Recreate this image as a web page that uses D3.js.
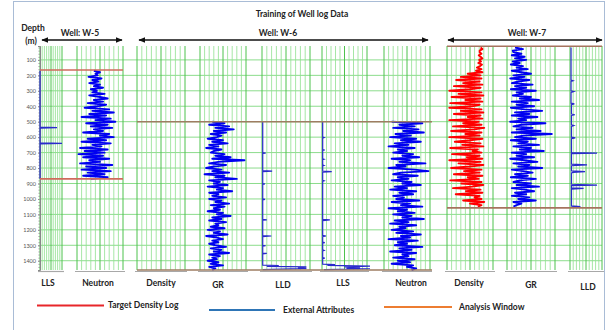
<!DOCTYPE html>
<html>
<head>
<meta charset="utf-8">
<script src="https://cdn.jsdelivr.net/npm/d3@7/dist/d3.min.js"></script>
<style>
  body { margin: 0; background: #fff; }
  svg { display: block; font-family: Lato, "Open Sans", sans-serif; }
</style>
</head>
<body>
<svg id="chart" width="607" height="330"></svg>
<script>
// ---- data ----
const depthTicks = [100, 200, 300, 400, 500, 600, 700, 800, 900, 1000, 1100, 1200, 1300, 1400];
const trackNames = ["LLS", "Neutron", "Density", "GR", "LLD", "LLS", "Neutron", "Density", "GR", "LLD"];
const wellNames = ["Well: W-5", "Well: W-6", "Well: W-7"];
const legendNames = ["Target Density Log", "External Attributes", "Analysis Window"];

// analysis windows (top, bottom depth in m)
const windowW5 = [165, 870];
const windowW6 = [500, 1460];
const windowW7 = [12, 1058];

// dense logs: first depth, step 10 m
const neutronW5Start = 170;
const neutronW5 = [38, 30, 36, 33,
  45, 28, 40, 32, 44, 30, 38, 26, 42, 34,
  40, 24, 44, 30, 20, 38, 26, 46, 22, 34,
  50, 18, 40, 12, 44, 22, 54, 16, 36, 10,
  48, 20, 42, 14, 38, 26, 52, 18, 30, 12,
  46, 22, 54, 16, 40, 28, 56, 20, 50, 24,
  58, 26, 52, 18, 44, 30, 56, 14, 48, 22,
  54, 16, 46, 24, 52, 20, 42];

const grW6Start = 500;
const grW6 = [40, 80, 30, 95, 50, 110, 45, 85, 35, 70,
  55, 25, 75, 40, 90, 30, 60, 20, 70, 45,
  35, 80, 50, 100, 40, 145, 60, 30, 85, 45,
  20, 70, 40, 95, 15, 80, 50, 120, 30, 65,
  45, 90, 25, 75, 55, 105, 30, 60, 40, 85,
  30, 70, 50, 95, 35, 80, 45, 65, 25, 75,
  55, 100, 40, 70, 30, 85, 50, 60, 35, 80,
  25, 65, 45, 90, 20, 55, 75, 40, 60, 30,
  50, 85, 35, 70, 45, 95, 30, 65, 40, 55,
  25, 60, 35, 75, 30, 50, 40];

const neutronW6Start = 500;
const neutronW6 = [50, 10, 40, 20, 48, 15, 35, 8, 45, 25,
  52, 18, 38, 12, 46, 28, 54, 20, 42, 30,
  48, 22, 36, 14, 50, 26, 40, 6, 44, 32,
  54, 20, 2, 38, 48, 16, 42, 28, 50, 24,
  36, 12, 46, 30, 52, 18, 40, 22, 48, 34,
  44, 14, 50, 26, 38, 10, 54, 30, 42, 20,
  48, 24, 36, 8, 46, 28, 52, 18, 40, 32,
  50, 22, 44, 12, 38, 26, 54, 16, 42, 30,
  46, 10, 40, 24, 52, 18, 36, 28, 48, 20,
  42, 26, 50, 22, 30, 18, 24];

const densityW7Start = 20;
const densityW7 = [2.68, 2.72, 2.66,
  2.66, 2.70, 2.64, 2.68, 2.72, 2.65, 2.69, 2.63, 2.71, 2.67,
  2.60, 2.70, 2.58, 2.72, 2.40, 2.68, 2.25, 2.70, 2.15, 2.66,
  2.30, 2.72, 2.10, 2.68, 2.45, 2.00, 2.70, 2.20, 2.74, 2.05,
  2.68, 2.35, 2.72, 2.02, 2.66, 2.50, 2.00, 2.70, 2.25, 2.74,
  2.10, 2.68, 2.40, 2.72, 2.00, 2.64, 2.30, 2.70, 2.08, 2.76,
  2.55, 2.04, 2.70, 2.35, 2.66, 2.00, 2.72, 2.45, 2.12, 2.68,
  2.28, 2.74, 2.02, 2.62, 2.50, 2.70, 2.06, 2.66, 2.38, 2.72,
  2.00, 2.68, 2.20, 2.74, 2.44, 2.04, 2.70, 2.32, 2.66, 2.10,
  2.72, 2.40, 2.64, 2.02, 2.70, 2.26, 2.74, 2.50, 2.08, 2.68,
  2.36, 2.72, 2.14, 2.66, 2.55, 2.70, 2.30, 2.76, 2.45, 2.70,
  2.62];

const grW7Start = 20;
const grW7 = [25, 50, 18,
  20, 45, 15, 55, 25, 60, 18, 40, 12, 50,
  30, 65, 15, 45, 75, 20, 55, 10, 70, 35,
  15, 80, 25, 60, 12, 90, 30, 50, 18, 75,
  40, 100, 15, 65, 30, 85, 12, 55, 110, 25,
  70, 15, 95, 35, 60, 10, 120, 45, 20, 80,
  30, 105, 15, 140, 50, 25, 90, 12, 65, 35,
  100, 20, 75, 40, 115, 15, 60, 30, 85, 10,
  55, 95, 20, 70, 35, 110, 15, 50, 80, 25,
  65, 12, 90, 40, 20, 75, 30, 100, 15, 55,
  85, 25, 60, 15, 70, 35, 90, 20, 45, 30,
  20];

// spiky resistivity logs: [depth, ohm.m]
const llsW5 = [[170, 0.2], [535, 0.2], [538, 250], [541, 0.2], [637, 0.2], [640, 2000], [643, 0.2], [870, 0.2]];
const lldW6 = [[500, 0.23], [700, 0.23], [703, 0.4], [706, 0.23], [817, 0.23], [820, 1.4], [824, 0.23],
  [900, 0.23], [903, 0.35], [906, 0.23], [1000, 0.23], [1003, 0.35], [1006, 0.23], [1132, 0.23], [1135, 0.5], [1138, 0.23],
  [1237, 0.23], [1240, 1.2], [1244, 0.23], [1300, 0.23], [1303, 0.4], [1306, 0.23], [1350, 0.23], [1353, 0.5], [1356, 0.23],
  [1428, 0.23], [1431, 5], [1436, 0.5], [1440, 1000], [1444, 200], [1449, 1000], [1453, 50], [1458, 0.23]];
const llsW6 = [[500, 0.23], [600, 0.23], [603, 0.3], [606, 0.23], [680, 0.23], [683, 0.35], [686, 0.23],
  [740, 0.23], [743, 0.3], [746, 0.23], [780, 0.23], [783, 0.3], [786, 0.23], [819, 0.23], [823, 1.46], [827, 0.23],
  [880, 0.23], [883, 0.3], [886, 0.23], [1132, 0.23], [1136, 1.0], [1140, 0.23], [1236, 0.23], [1240, 0.45], [1244, 0.23],
  [1280, 0.23], [1283, 0.35], [1286, 0.23], [1330, 0.23], [1333, 0.3], [1336, 0.23], [1380, 0.23], [1383, 0.35], [1386, 0.23],
  [1422, 0.23], [1425, 2.9], [1430, 0.6], [1435, 3700], [1440, 20], [1445, 480], [1449, 30], [1452, 3700], [1457, 0.3]];
const lldW7 = [[20, 0.27], [230, 0.27], [235, 0.5], [240, 0.27], [300, 0.27], [305, 0.6], [310, 0.27],
  [380, 0.27], [385, 0.7], [390, 0.3], [450, 0.3], [455, 0.8], [460, 0.3], [520, 0.3], [525, 0.6], [530, 0.3],
  [600, 0.3], [605, 0.9], [610, 0.3], [700, 0.3], [703, 480], [707, 0.3], [775, 0.3], [780, 27], [785, 0.3],
  [818, 0.3], [823, 15], [828, 0.5], [832, 0.3], [905, 0.3], [910, 480], [914, 0.3], [928, 0.3], [932, 10], [936, 0.3],
  [1045, 0.3], [1050, 4], [1055, 0.3]];

// ---- layout ----
const svg = d3.select("#chart");
const gridTop = 46, gridBottom = 270;
const y = d3.scaleLinear().domain([10, 1460]).range([gridTop, gridBottom]);

const resDomain = [0.2, 2000];
const tracks = [
  { x0: 40, x1: 62, log: true, domain: resDomain, lx: 48, ly: 286 },
  { x0: 77, x1: 123, domain: [60, 0], lx: 98, ly: 286 },
  { x0: 137, x1: 185, domain: [1.95, 2.95], lx: 161, ly: 286 },
  { x0: 200, x1: 246, domain: [0, 150], lx: 218, ly: 288 },
  { x0: 262, x1: 310, log: true, domain: resDomain, lx: 283, ly: 288 },
  { x0: 322, x1: 367, log: true, domain: resDomain, lx: 343, ly: 286 },
  { x0: 384, x1: 430, domain: [60, 0], lx: 411, ly: 286 },
  { x0: 447, x1: 493, domain: [1.95, 2.95], lx: 469, ly: 286 },
  { x0: 507, x1: 555, domain: [0, 150], lx: 531, ly: 288 },
  { x0: 570, x1: 602, log: true, domain: resDomain, lx: 588, ly: 290 }
];
tracks.forEach((t, i) => {
  t.name = trackNames[i];
  t.x = (t.log ? d3.scaleLog() : d3.scaleLinear()).domain(t.domain).range([t.x0, t.x1]);
});

// frame
svg.append("rect").attr("x", 13.5).attr("y", 1.5).attr("width", 591).attr("height", 340)
  .attr("fill", "none").attr("stroke", "#a9bcd6").attr("stroke-width", 1);

// title
svg.append("text").attr("x", 302).attr("y", 17).attr("text-anchor", "middle")
  .attr("font-size", 8.5).attr("font-weight", "bold").attr("fill", "#222").text("Training of Well log Data");

// horizontal grid
const gh = svg.append("g");
gh.selectAll("line").data(depthTicks).join("line")
  .attr("x1", 40).attr("x2", 602)
  .attr("y1", d => y(d)).attr("y2", d => y(d))
  .attr("stroke", "#7fd87f").attr("stroke-width", 0.9);

// vertical grid per track
tracks.forEach(t => {
  const g = svg.append("g");
  const n = 10;
  const xs = d3.range(n + 1).map(k => t.x0 + (t.x1 - t.x0) * k / n);
  g.selectAll("line").data(xs).join("line")
    .attr("x1", d => d).attr("x2", d => d)
    .attr("y1", gridTop).attr("y2", gridBottom)
    .attr("stroke", (d, k) => (k === 0 || k === n || k === 5) ? "#4cc24c" : "#8fe08f")
    .attr("stroke-width", (d, k) => (k === 0 || k === n || k === 5) ? 1 : 0.8);
  // track baseline
  svg.append("line").attr("x1", t.x0 - 2).attr("x2", t.x1 + 2)
    .attr("y1", gridBottom + 1.5).attr("y2", gridBottom + 1.5)
    .attr("stroke", "#a8a8a8").attr("stroke-width", 1.2);
  // track label
  svg.append("text").attr("x", t.lx).attr("y", t.ly).attr("text-anchor", "middle")
    .attr("font-size", 8.5).attr("font-weight", "bold").attr("fill", "#222").text(t.name);
});

// depth axis
const axis = svg.append("g").attr("transform", "translate(40,0)")
  .call(d3.axisLeft(y).tickValues(depthTicks).tickSize(2).tickFormat(d3.format("d")));
axis.select(".domain").attr("stroke", "#888");
axis.selectAll(".tick line").attr("stroke", "#888");
axis.selectAll(".tick text").attr("font-size", 5.5).attr("fill", "#555").attr("x", -4)
  .attr("font-family", "Lato, sans-serif");
svg.append("g").attr("transform", "translate(40,0)")
  .call(d3.axisLeft(y).tickValues(d3.range(20, 1460, 20)).tickSize(1.5).tickFormat(""))
  .call(g => g.select(".domain").remove())
  .selectAll(".tick line").attr("stroke", "#999");

svg.append("text").attr("x", 33).attr("y", 31).attr("text-anchor", "middle")
  .attr("font-size", 8.5).attr("font-weight", "bold").attr("fill", "#222").text("Depth");
svg.append("text").attr("x", 31).attr("y", 43.5).attr("text-anchor", "middle")
  .attr("font-size", 8.5).attr("font-weight", "bold").attr("fill", "#222").text("(m)");

// well arrows
const defs = svg.append("defs");
defs.append("marker").attr("id", "ah").attr("viewBox", "0 0 10 10").attr("refX", 9).attr("refY", 5)
  .attr("markerWidth", 5).attr("markerHeight", 5).attr("orient", "auto-start-reverse")
  .append("path").attr("d", "M0,1 L10,5 L0,9 Z").attr("fill", "#111");
const wellSpans = [[42, 122], [139, 428], [448, 602]];
wellSpans.forEach((s, i) => {
  svg.append("line").attr("x1", s[0]).attr("x2", s[1]).attr("y1", 40).attr("y2", 40)
    .attr("stroke", "#111").attr("stroke-width", 1.4)
    .attr("marker-start", "url(#ah)").attr("marker-end", "url(#ah)");
  svg.append("text").attr("x", i === 0 ? 80 : i === 1 ? 278 : 527).attr("y", 36)
    .attr("text-anchor", "middle").attr("font-size", 8.5).attr("font-weight", "bold")
    .attr("fill", "#222").text(wellNames[i]);
});

// curves
const blue = "#0000f0";
function dense(t, start, vals, color) {
  const line = d3.line().x(v => t.x(v)).y((v, i) => y(start + i * 10));
  svg.append("path").datum(vals).attr("d", line)
    .attr("fill", "none").attr("stroke", color).attr("stroke-width", 1.9).attr("stroke-linejoin", "round");
}
function spiky(t, pairs) {
  const line = d3.line().x(p => t.x(p[1])).y(p => y(p[0]));
  svg.append("path").datum(pairs).attr("d", line)
    .attr("fill", "none").attr("stroke", "#2a2acc").attr("stroke-width", 1.2);
}
spiky(tracks[0], llsW5);
dense(tracks[1], neutronW5Start, neutronW5, blue);
dense(tracks[3], grW6Start, grW6, blue);
spiky(tracks[4], lldW6);
spiky(tracks[5], llsW6);
dense(tracks[6], neutronW6Start, neutronW6, blue);
dense(tracks[7], densityW7Start, densityW7, "#ff0000");
dense(tracks[8], grW7Start, grW7, blue);
spiky(tracks[9], lldW7);

// analysis windows
function windowLines(d, x0, x1, color) {
  svg.append("g").selectAll("line").data(d).join("line")
    .attr("x1", x0).attr("x2", x1).attr("y1", v => y(v)).attr("y2", v => y(v))
    .attr("stroke", color).attr("stroke-width", 1.6);
}
windowLines(windowW5, 40, 123, "#cf6b5c");
windowLines(windowW6, 137, 432, "#9e7d62");
windowLines(windowW7, 447, 602, "#a6735e");

// legend
const legendItems = [
  { x0: 37, x1: 104, ly: 305.5, color: "#e8262a", tx: 108 },
  { x0: 209, x1: 275, ly: 310, color: "#2e75b6", tx: 283 },
  { x0: 384, x1: 452, ly: 307, color: "#ed7d31", tx: 459 }
];
legendItems.forEach((l, i) => {
  svg.append("line").attr("x1", l.x0).attr("x2", l.x1).attr("y1", l.ly).attr("y2", l.ly)
    .attr("stroke", l.color).attr("stroke-width", 2);
  svg.append("text").attr("x", l.tx).attr("y", l.ly + 2.5).attr("font-size", 8.5)
    .attr("font-weight", "bold").attr("fill", "#222").text(legendNames[i]);
});
</script>
</body>
</html>
